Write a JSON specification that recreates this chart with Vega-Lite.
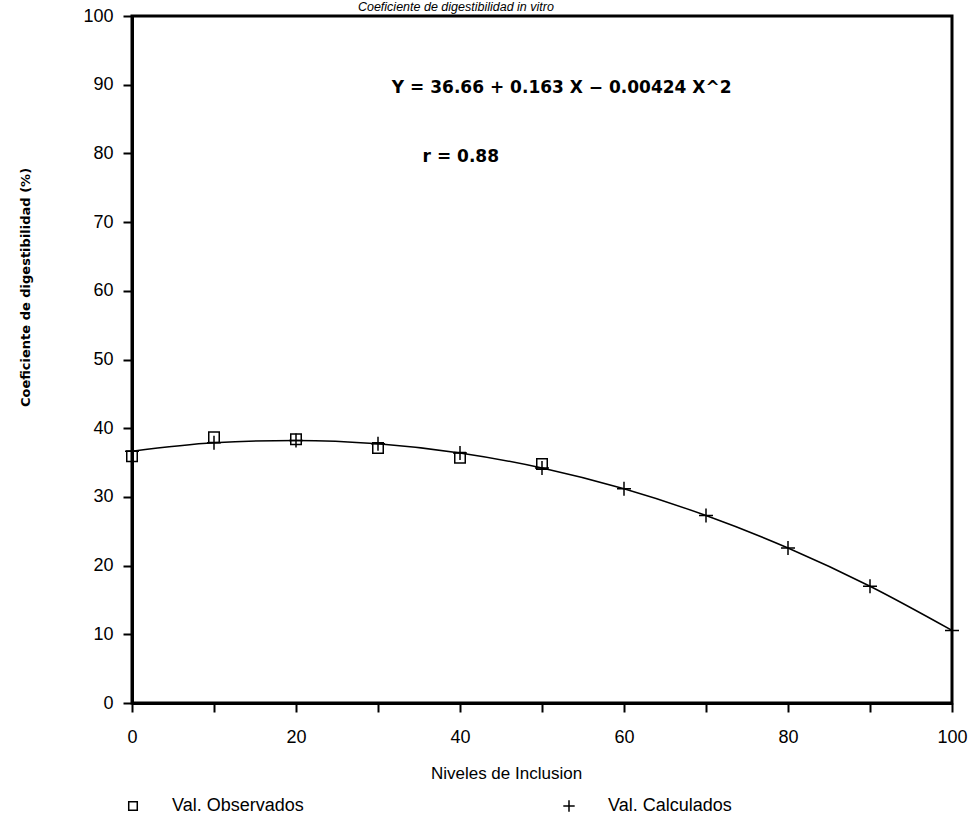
{
  "$schema": "https://vega.github.io/schema/vega-lite/v6.json",
  "autosize": {"type": "none"},
  "padding": {"left": 132, "top": 16, "right": 22, "bottom": 116},
  "width": 820,
  "height": 687,
  "background": "white",
  "config": {
    "view": {"stroke": "black", "strokeWidth": 3},
    "axis": {
      "domainColor": "black", "domainWidth": 3, "tickColor": "black", "tickWidth": 2, "tickSize": 9,
      "grid": false, "labelFont": "Liberation Sans", "labelFontSize": 18, "labelColor": "black",
      "titleColor": "black", "titleFontWeight": "normal", "labelFlush": false
    },
    "legend": {"padding": 0}
  },
  "datasets": {
    "pts": [
      {"nivel": 0, "valor": 35.9, "serie": "Val. Observados"},
      {"nivel": 10, "valor": 38.7, "serie": "Val. Observados"},
      {"nivel": 20, "valor": 38.4, "serie": "Val. Observados"},
      {"nivel": 30, "valor": 37.1, "serie": "Val. Observados"},
      {"nivel": 40, "valor": 35.7, "serie": "Val. Observados"},
      {"nivel": 50, "valor": 34.8, "serie": "Val. Observados"},
      {"nivel": 0, "valor": 36.66, "serie": "Val. Calculados"},
      {"nivel": 10, "valor": 37.87, "serie": "Val. Calculados"},
      {"nivel": 20, "valor": 38.22, "serie": "Val. Calculados"},
      {"nivel": 30, "valor": 37.73, "serie": "Val. Calculados"},
      {"nivel": 40, "valor": 36.4, "serie": "Val. Calculados"},
      {"nivel": 50, "valor": 34.21, "serie": "Val. Calculados"},
      {"nivel": 60, "valor": 31.18, "serie": "Val. Calculados"},
      {"nivel": 70, "valor": 27.29, "serie": "Val. Calculados"},
      {"nivel": 80, "valor": 22.56, "serie": "Val. Calculados"},
      {"nivel": 90, "valor": 16.99, "serie": "Val. Calculados"},
      {"nivel": 100, "valor": 10.56, "serie": "Val. Calculados"}
    ],
    "notas": [
      {"nivel": 52.4, "valor": 89.5, "texto": "Y = 36.66 + 0.163 X − 0.00424 X^2"},
      {"nivel": 40.1, "valor": 79.5, "texto": "r = 0.88"}
    ]
  },
  "layer": [
    {
      "data": {"name": "pts"},
      "transform": [{"filter": "datum.serie == 'Val. Calculados'"}],
      "mark": {"type": "line", "color": "black", "strokeWidth": 1.5, "interpolate": "monotone"},
      "encoding": {
        "x": {"field": "nivel", "type": "quantitative",
          "scale": {"domain": [0, 100], "nice": false},
          "axis": {"values": [0,10,20,30,40,50,60,70,80,90,100], "labelExpr": "datum.value % 20 == 0 ? datum.label : ''",
            "labelPadding": 16, "title": "Niveles de Inclusion", "titleFont": "Liberation Sans", "titleFontSize": 17,
            "titleX": 374, "titleY": 70, "titleAlign": "center", "titleBaseline": "middle"}},
        "y": {"field": "valor", "type": "quantitative",
          "scale": {"domain": [0, 100], "nice": false},
          "axis": {"values": [0,10,20,30,40,50,60,70,80,90,100], "labelPadding": 10,
            "title": "Coeficiente de digestibilidad (%)", "titleFont": "DejaVu Sans", "titleFontWeight": "bold", "titleFontSize": 13,
            "titleX": -107, "titleY": 271, "titleAngle": 270, "titleAlign": "center", "titleBaseline": "middle"}}
      }
    },
    {
      "data": {"name": "pts"},
      "mark": {"type": "point", "filled": false, "strokeWidth": 1.5, "color": "black", "opacity": 1, "size": 196},
      "encoding": {
        "x": {"field": "nivel", "type": "quantitative"},
        "y": {"field": "valor", "type": "quantitative"},
        "shape": {"field": "serie", "type": "nominal",
          "scale": {"domain": ["Val. Observados", "Val. Calculados"], "range": ["M-0.75,-0.75L0.75,-0.75L0.75,0.75L-0.75,0.75Z", "M-1,0L1,0M0,-1L0,1"]},
          "legend": {"title": null, "orient": "none", "direction": "horizontal", "legendX": -8, "legendY": 781,
            "symbolSize": 130, "symbolStrokeWidth": 1.5, "symbolStrokeColor": "black", "symbolFillColor": "transparent",
            "labelFont": "Liberation Sans", "labelFontSize": 18, "labelColor": "black", "labelOffset": 30,
            "columnPadding": 256, "labelLimit": 300}}
      }
    },
    {
      "data": {"name": "notas"},
      "mark": {"type": "text", "font": "DejaVu Sans", "fontWeight": "bold", "fontSize": 17, "color": "black", "align": "center", "baseline": "middle"},
      "encoding": {
        "x": {"field": "nivel", "type": "quantitative"},
        "y": {"field": "valor", "type": "quantitative"},
        "text": {"field": "texto"}
      }
    },
    {
      "data": {"values": [{"nivel": 39.5, "valor": 100, "texto": "Coeficiente de digestibilidad in vitro"}]},
      "mark": {"type": "text", "font": "Liberation Sans", "fontStyle": "italic", "fontSize": 12.5, "color": "black", "align": "center", "baseline": "alphabetic", "dy": -5},
      "encoding": {
        "x": {"field": "nivel", "type": "quantitative"},
        "y": {"field": "valor", "type": "quantitative"},
        "text": {"field": "texto"}
      }
    }
  ]
}
